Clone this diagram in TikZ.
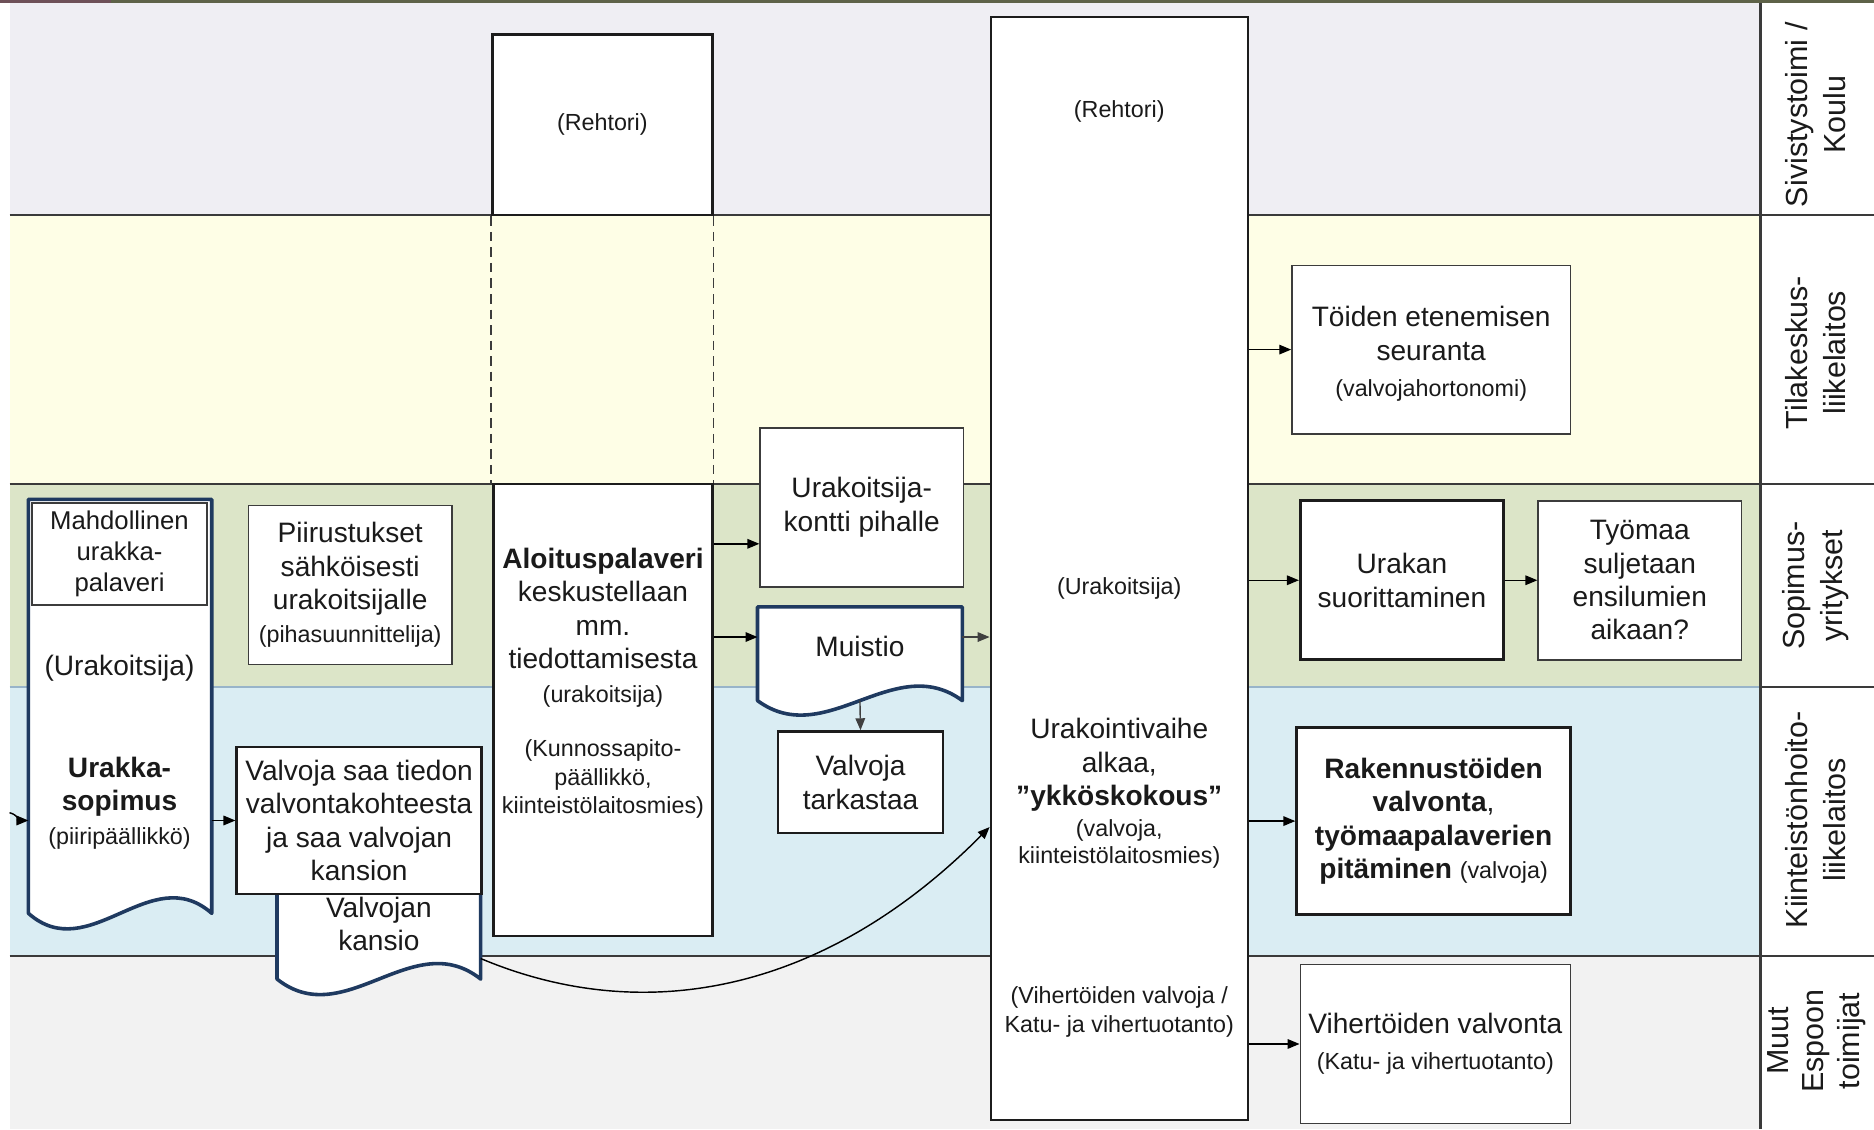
\documentclass[tikz,border=0pt]{standalone}
\usepackage{fontspec}
\setmainfont{Liberation Sans}
\usetikzlibrary{arrows.meta}
\definecolor{laneA}{HTML}{EFEEF3}
\definecolor{laneB}{HTML}{FEFEE6}
\definecolor{laneC}{HTML}{DCE5C8}
\definecolor{laneD}{HTML}{DAEDF3}
\definecolor{laneE}{HTML}{F2F2F2}
\definecolor{laneline}{HTML}{3A3A3A}
\definecolor{laneblue}{HTML}{98B4C9}
\definecolor{topolive}{HTML}{5E6248}
\definecolor{topbrown}{HTML}{6E5058}
\definecolor{docc}{HTML}{1F3A60}
\definecolor{boxc}{HTML}{1C1C1C}
\definecolor{boxthin}{HTML}{3C3C3C}
\definecolor{txt}{HTML}{1A1A1A}
\definecolor{arrgray}{HTML}{404040}
\newcommand\mainfnt{\fontsize{23.5}{28}\selectfont}
\newcommand\smallfnt{\fontsize{19.5}{24}\selectfont}
\newcommand\midfnt{\fontsize{21.5}{26}\selectfont}
\newcommand\lanefnt{\fontsize{25.5}{32}\selectfont}
\begin{document}
\begin{tikzpicture}[x=1pt,y=-1pt,
  box/.style={draw=boxthin, line width=1.4pt, fill=white, inner sep=1pt, align=center, font=\mainfnt, text=txt},
  thickbox/.style={box, draw=boxc, line width=2.4pt},
  medbox/.style={box, draw=boxc, line width=2pt},
  docshape/.style={draw=docc, line width=3pt, fill=white, line join=round},
  anchorbox/.style={inner sep=0pt, draw=none},
  txtnode/.style={inner sep=0pt, align=center, text=txt},
  lanelbl/.style={inner sep=0pt, align=center, rotate=90, font=\lanefnt, text=txt},
  lanesep/.style={draw=laneline, line width=1.8pt},
  arr/.style={-{Triangle[length=10pt,width=8pt]}, line width=1.2pt, draw=black},
  guide/.style={draw=boxthin, line width=1.3pt, dash pattern=on 8pt off 5pt}
]
\useasboundingbox (0,0) rectangle (1568,945);
% lanes
\fill[white] (0,0) rectangle (1568,945);
\fill[laneA] (8,2) rectangle (1473,180);
\fill[laneB] (8,180) rectangle (1473,405);
\fill[laneC] (8,405) rectangle (1473,575);
\fill[laneD] (8,575) rectangle (1473,800);
\fill[laneE] (8,800) rectangle (1473,945);
\draw[lanesep] (8,180) -- (1568,180);
\draw[lanesep] (8,405) -- (1568,405);
\draw[draw=laneblue, line width=1.6pt] (8,575) -- (1473,575);
\draw[lanesep] (1473,575) -- (1568,575);
\draw[lanesep, line width=2.2pt] (8,800) -- (1568,800);
\draw[lanesep] (1473,2) -- (1473,945);
\fill[topbrown] (0,0) rectangle (93,2.6);
\draw[topolive, line width=2pt] (93,1.2) -- (1568,1.2);
% lane labels
\node[lanelbl] (lbl1) at (1519,96) {Sivistystoimi /\\Koulu};
\node[lanelbl] (lbl2) at (1519,295) {Tilakeskus-\\liikelaitos};
\node[lanelbl] (lbl3) at (1519,490) {Sopimus-\\yritykset};
\node[lanelbl] (lbl4) at (1519,686) {Kiinteistönhoito-\\liikelaitos};
\node[lanelbl, font=\fontsize{25.5}{30}\selectfont] (lbl5) at (1520,871) {Muut\\Espoon\\toimijat};

% Rehtori box and Aloituspalaveri
\node[medbox, minimum width=184pt, minimum height=151pt] (rehtoriA) at (504,104.5) {\smallfnt(Rehtori)};
\node[medbox, minimum width=183pt, minimum height=378pt] (aloitus) at (504.5,594) {};
\node[txtnode, font=\mainfnt] (aloitusA) at (504.5,525) {\textbf{Aloituspalaveri}\\keskustellaan\\mm.\\tiedottamisesta\\{\smallfnt(urakoitsija)}};
\node[txtnode, font=\smallfnt] (aloitusB) at (504.5,652) {(Kunnossapito-\\päällikkö,\\kiinteistölaitosmies)};
\draw[guide] (rehtoriA.south west) -- (rehtoriA.south west |- aloitus.north);
\draw[guide] (rehtoriA.south east) -- (rehtoriA.south east |- aloitus.north);

% big box
\node[medbox, minimum width=215pt, minimum height=923pt] (bigbox) at (936.5,475.5) {};
\node[txtnode, font=\smallfnt] (bbReh) at (936.5,93) {(Rehtori)};
\node[txtnode, font=\smallfnt] (bbUrak) at (936.5,492) {(Urakoitsija)};
\node[txtnode, font=\mainfnt] (bbMain) at (936.5,640) {Urakointivaihe\\alkaa,\\\textbf{”ykköskokous”}};
\node[txtnode, font=\fontsize{19.5}{23}\selectfont] (bbValv) at (936.5,706) {(valvoja,\\kiinteistölaitosmies)};
\node[txtnode, font=\smallfnt] (bbViher) at (936.5,847) {(Vihertöiden valvoja /\\Katu- ja vihertuotanto)};

% Urakkasopimus document
\node[anchorbox, minimum width=153pt, minimum height=346pt] (sopimus) at (100.5,591) {};
\draw[docshape] (sopimus.south west) .. controls +(51,45) and +(-51,-45) .. (sopimus.south east) -- (sopimus.north east) -- (sopimus.north west) -- cycle;
\node[box, line width=1.3pt, font=\midfnt, minimum width=146pt, minimum height=85pt] (mahd) at (100,463.5) {Mahdollinen\\urakka-\\palaveri};
\node[txtnode, font=\mainfnt] (sopUrak) at (100,559) {(Urakoitsija)};
\node[txtnode, font=\mainfnt] (sopTxt) at (100,672) {\textbf{Urakka-}\\\textbf{sopimus}\\{\smallfnt(piiripäällikkö)}};

% Piirustukset
\node[box, line width=1.3pt, minimum width=170pt, minimum height=133pt] (piirus) at (293,489.5) {Piirustukset\\sähköisesti\\urakoitsijalle\\{\smallfnt(pihasuunnittelija)}};

% Valvojan kansio document (behind Valvoja box)
\node[anchorbox, minimum width=170pt, minimum height=94pt] (kansio) at (317,772) {};
\draw[docshape] (kansio.south west) .. controls +(56.7,45) and +(-56.7,-45) .. (kansio.south east) -- (kansio.north east) -- (kansio.north west) -- cycle;
\node[txtnode, font=\mainfnt] (kansioTxt) at (317,773) {Valvojan\\kansio};

% Valvoja saa tiedon
\node[medbox, minimum width=205pt, minimum height=123pt] (valvoja) at (300.5,686.5) {Valvoja saa tiedon\\valvontakohteesta\\ja saa valvojan\\kansion};

% Urakoitsija-kontti
\node[box, line width=1.3pt, minimum width=170pt, minimum height=133pt] (kontti) at (721,424.5) {Urakoitsija-\\kontti pihalle};

% Muistio document
\node[anchorbox, minimum width=171pt, minimum height=78pt] (muistio) at (719.5,547) {};
\draw[docshape] (muistio.south west) .. controls +(57,42) and +(-57,-42) .. (muistio.south east) -- (muistio.north east) -- (muistio.north west) -- cycle;
\node[txtnode, font=\mainfnt] (muistioTxt) at (719.5,541) {Muistio};

% Valvoja tarkastaa
\node[medbox, minimum width=138pt, minimum height=85pt] (valvtark) at (720,654.5) {Valvoja\\tarkastaa};

% right side boxes
\node[box, line width=1.3pt, minimum width=233pt, minimum height=141pt] (toiden) at (1197.5,292.5) {};
\node[txtnode, font=\mainfnt] (toidenTxt) at (1197.5,296) {Töiden etenemisen\\seuranta\\[2pt]{\smallfnt(valvojahortonomi)}};
\node[thickbox, minimum width=170pt, minimum height=133pt] (urakan) at (1173,485.5) {Urakan\\suorittaminen};
\node[box, line width=1.3pt, minimum width=170pt, minimum height=133pt] (tyomaa) at (1372,485.5) {Työmaa\\suljetaan\\ensilumien\\aikaan?};
\node[thickbox, minimum width=229pt, minimum height=156pt] (rakennus) at (1199.5,687) {\textbf{Rakennustöiden}\\\textbf{valvonta},\\\textbf{työmaapalaverien}\\\textbf{pitäminen} {\smallfnt(valvoja)}};
\node[box, line width=1.3pt, minimum width=226pt, minimum height=133pt] (viher) at (1201,873.5) {Vihertöiden valvonta\\[2pt]{\smallfnt(Katu- ja vihertuotanto)}};

% connectors
\coordinate (inTip) at (8,680);
\coordinate (y455) at (0,455);
\coordinate (y533) at (0,533);
\coordinate (y802) at (0,802);
\coordinate (y692) at (0,692);
\draw[arr] (inTip) to[out=-15,in=180] (sopimus.west |- valvoja.west);
\draw[arr] (sopimus.east |- valvoja.west) -- (valvoja.west);
\draw[arr] (aloitus.east |- y455) -- (kontti.west |- y455);
\draw[arr] (aloitus.east |- y533) -- (muistio.west |- y533);
\draw[arr, draw=arrgray] (muistio.east |- y533) -- (bigbox.west |- y533);
\draw[arr, draw=arrgray] (muistio.south) -- (valvtark.north);
\draw[arr] (kansio.east |- y802) .. controls (540,860) and (691,830) .. (bigbox.west |- y692);
\draw[arr] (bigbox.east |- toiden.west) -- (toiden.west);
\draw[arr] (bigbox.east |- urakan.west) -- (urakan.west);
\draw[arr] (urakan.east) -- (tyomaa.west);
\draw[arr] (bigbox.east |- rakennus.west) -- (rakennus.west);
\draw[arr] (bigbox.east |- viher.west) -- (viher.west);
\end{tikzpicture}
\end{document}
